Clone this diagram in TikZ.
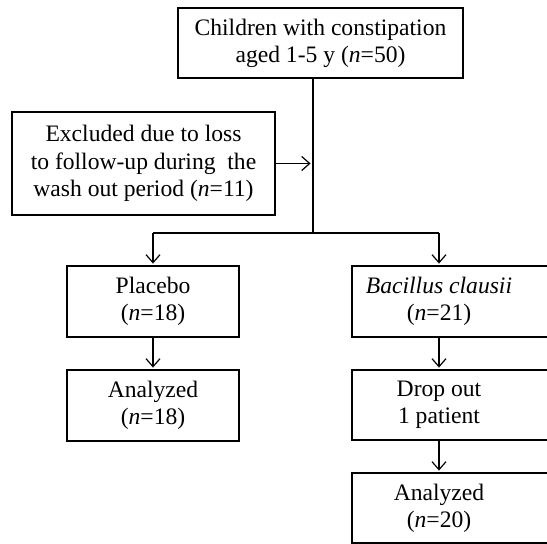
\documentclass[tikz,border=0pt]{standalone}
\usepackage{fontspec}
\setmainfont{Liberation Serif}
\usetikzlibrary{arrows.meta, positioning}

\begin{document}
\begin{tikzpicture}[
    x=1pt, y=1pt,
    node distance=16.5pt,
    box/.style={rectangle, draw, line width=0.6pt, outer sep=0pt, inner sep=2pt, minimum width=86pt, minimum height=35.5pt, align=center, font=\fontsize{11.8}{13.6}\selectfont},
    openbox/.style={box, draw=none, minimum width=87pt},
    frame/.style={line width=0.6pt},
    arrow/.style={-{Straight Barb[length=4pt,width=7pt]}, line width=0.6pt, shorten >=1.2pt},
    line/.style={line width=0.6pt}
]
\useasboundingbox (0,0) rectangle (273.5,-272);

\node[box, minimum width=142.5pt, minimum height=35pt] (children) at (160.25,-21.5) {Children with constipation\\aged 1-5 y (\textit{n}=50)};
\node[box, minimum width=131.5pt, minimum height=51.5pt] (excluded) at (71.75,-81.75) {Excluded due to loss\\to follow-up during~ the\\wash out period (\textit{n}=11)};
\node[box] (placebo) at (76.5,-150.75) {Placebo\\(\textit{n}=18)};
\node[box, below=of placebo] (analyzedP) {Analyzed\\(\textit{n}=18)};
\node[openbox] (bacillus) at (219.5,-150.75) {\textit{Bacillus clausii}\\(\textit{n}=21)};
\node[openbox, below=of bacillus, minimum height=35pt] (dropout) {Drop out\\1 patient};
\node[openbox, below=of dropout, minimum height=35pt] (analyzedB) {Analyzed\\(\textit{n}=20)};
\coordinate (split) at (156.5,-116.5);

% right column boxes run off the page
\foreach \b in {bacillus, dropout, analyzedB}
    \draw[frame] ([xshift=20pt]\b.north east) -- (\b.north west) -- (\b.south west) -- ([xshift=20pt]\b.south east);

\draw[line] (children.south -| split) -- (split);
\draw[arrow] (excluded.east) -- (excluded.east -| split);
\draw[line] (split -| placebo) -- (split -| bacillus);
\draw[arrow] (split -| placebo) -- (placebo);
\draw[arrow] (split -| bacillus) -- (bacillus);
\draw[arrow] (placebo) -- (analyzedP);
\draw[arrow] (bacillus) -- (dropout);
\draw[arrow] (dropout) -- (analyzedB);

\end{tikzpicture}
\end{document}
